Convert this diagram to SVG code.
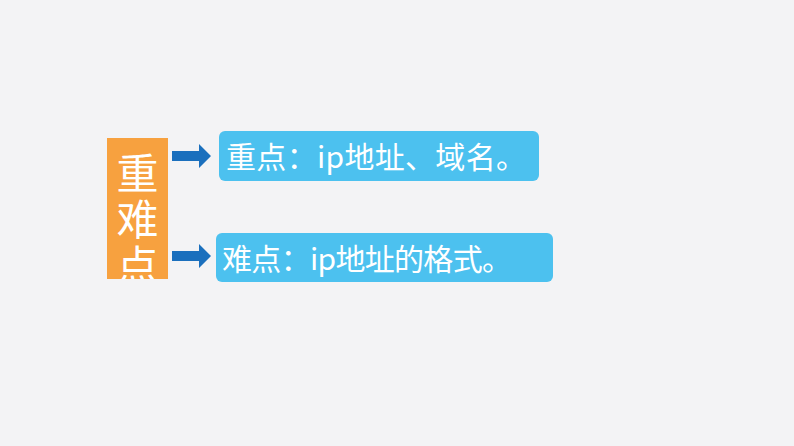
<svg xmlns="http://www.w3.org/2000/svg" width="794" height="446" viewBox="0 0 794 446">
<defs><clipPath id="c"><rect x="107" y="138" width="61" height="141"/></clipPath></defs>
<style>
.t{font-family:"Noto Sans CJK SC","Liberation Sans",sans-serif;fill:#fff}
.b{fill:#4cc1ef}
.a{fill:#1a6fbd}
</style>
<rect width="794" height="446" fill="#f3f3f5"/>
<g id="main">
<rect x="107" y="138" width="61" height="141" fill="#f7a13f"/>
<g clip-path="url(#c)"><text class="t" font-size="42" x="137.5" text-anchor="middle"><tspan x="137.5" y="189">重</tspan><tspan x="137.5" y="235">难</tspan><tspan x="137.5" y="281">点</tspan></text></g>
</g>
<g id="connectors">
<polygon class="a" points="172,151 199,151 199,144 211,156 199,168 199,161 172,161"/>
<polygon class="a" points="172,251 199,251 199,244 211,256 199,268 199,261 172,261"/>
</g>
<g id="n1"><rect class="b" x="219" y="131" width="320" height="50" rx="6"/>
<text class="t" font-size="30" x="226" y="168" textLength="300" lengthAdjust="spacing">重点：ip地址、域名。</text></g>
<g id="n2"><rect class="b" x="216" y="233" width="337" height="49" rx="6"/>
<text class="t" font-size="30" x="222" y="270" textLength="290" lengthAdjust="spacing">难点：ip地址的格式。</text></g>
</svg>
